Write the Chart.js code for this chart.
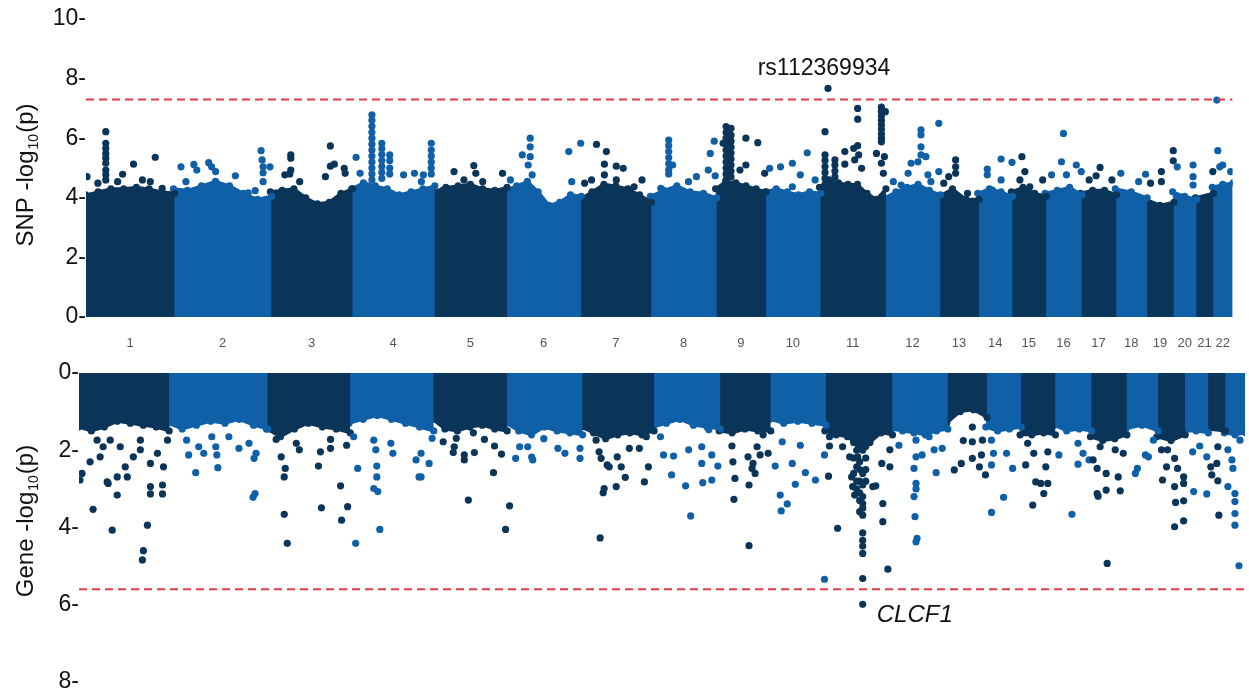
<!DOCTYPE html>
<html>
<head>
<meta charset="utf-8">
<script src="https://cdn.jsdelivr.net/npm/chart.js@4.4.1/dist/chart.umd.min.js"></script>
<style>
  html, body { margin: 0; padding: 0; background: #fff; overflow: hidden; }
  #snpBox { position: absolute; left: 0; top: 0; }
  #geneBox { position: absolute; left: 0; top: 350px; }
</style>
</head>
<body>
<div id="snpBox"><canvas id="snpChart" width="1249" height="350"></canvas></div>
<div id="geneBox"><canvas id="geneChart" width="1249" height="350"></canvas></div>
<script>
// chromosomes and their widths on the genome axis
const chromosomes = ['1','2','3','4','5','6','7','8','9','10','11','12','13','14','15','16','17','18','19','20','21','22'];
const chromLength = [89, 98, 82, 83, 73, 75, 71, 66, 50, 55, 66, 55, 39, 34, 34, 36, 35, 31, 27, 23, 17, 20];

const snpTicks = [0, 2, 4, 6, 8, 10];
const geneTicks = [0, 2, 4, 6, 8];
const snpThreshold = 7.3;
const geneThreshold = 5.6;

// top of the dense band of points, per chromosome (evenly spaced along it)
const snpEdge = [
  [4.1, 4.2, 4.3, 4.3, 4.35, 4.3, 4.2, 4.15],
  [4.3, 4.25, 4.4, 4.55, 4.4, 4.15, 3.95, 4.05],
  [4.2, 4.25, 4.3, 4.0, 3.8, 3.85, 4.15, 4.3],
  [4.3, 4.5, 4.4, 4.3, 4.1, 4.2, 4.3, 4.4],
  [4.2, 4.35, 4.4, 4.45, 4.3, 4.25, 4.35],
  [4.25, 4.4, 4.55, 4.2, 3.75, 3.85, 4.1, 4.05],
  [3.95, 4.2, 4.45, 4.4, 4.3, 4.1, 3.85],
  [4.05, 4.25, 4.4, 4.2, 4.15, 4.0],
  [4.3, 4.55, 4.5, 4.4, 4.3, 4.2],
  [4.2, 4.3, 4.2, 4.1, 4.2, 4.15],
  [4.35, 4.6, 4.5, 4.45, 4.45, 4.15, 3.95, 4.3],
  [4.0, 4.2, 4.35, 4.45, 4.25, 4.1],
  [4.05, 4.3, 3.95, 3.95],
  [4.15, 4.3, 4.2, 4.05],
  [4.2, 4.35, 4.15, 4.05],
  [4.15, 4.25, 4.35, 4.1],
  [4.15, 4.25, 4.25, 4.1],
  [4.3, 4.2, 4.0],
  [3.95, 3.75, 3.85],
  [4.2, 4.05, 3.95],
  [4.0, 4.15],
  [4.35, 4.45, 4.5]
];

// SNPs standing out above the band: [chromosome, offset in chromosome, -log10(p)]
const snpPeaks = [
  [1,1,4.71],[1,20,6.22],[1,20,5.83],[1,20,5.66],[1,20,5.49],[1,20,5.33],[1,20,5.16],[1,20,4.93],[1,20,4.77],[1,20,4.6],
  [1,12,4.49],[1,37,4.79],[1,48,5.13],[1,70,5.36],[1,32,4.54],[1,57,4.6],[1,65,4.54],[1,77,4.32],
  [2,7,5.04],[2,12,4.54],[2,20,5.12],[2,23,4.93],[2,35,5.18],[2,38,5.04],[2,42,4.88],[2,62,4.74],
  [2,88,5.58],[2,89,5.27],[2,90,5.04],[2,90,4.84],[2,90,4.54],[2,97,5.04],[2,75,4.17],[2,82,4.24],
  [3,20,5.44],[3,20,5.33],[3,20,4.93],[3,19,4.8],[3,29,4.54],[3,60,5.74],[3,60,5.06],[3,64,5.13],
  [3,55,4.71],[3,74,4.99],[3,75,4.82],[3,14,4.77],
  [4,4,5.36],[4,8,4.82],[4,20,6.78],[4,20,6.6],[4,20,6.4],[4,20,6.2],[4,20,6.0],[4,20,5.8],[4,20,5.6],
  [4,20,5.4],[4,20,5.2],[4,20,5.0],[4,20,4.8],[4,20,4.6],
  [4,30,5.83],[4,30,5.65],[4,30,5.45],[4,30,5.25],[4,30,5.05],[4,30,4.85],[4,30,4.65],
  [4,38,5.44],[4,38,5.25],[4,38,5.0],[4,38,4.8],[4,52,4.77],[4,63,4.82],[4,72,4.77],[4,70,4.54],
  [4,80,5.83],[4,80,5.6],[4,80,5.4],[4,80,5.2],[4,80,5.0],[4,80,4.8],
  [5,20,4.88],[5,40,5.08],[5,42,4.82],[5,69,4.82],[5,49,4.54],[5,9,4.26],[5,30,4.6],
  [6,24,6.0],[6,24,5.71],[6,16,5.44],[6,24,5.38],[6,22,5.1],[6,26,4.77],[6,63,5.55],[6,75,5.83],[6,66,4.54],[6,4,4.6],
  [7,16,5.79],[7,26,5.55],[7,24,5.13],[7,36,5.06],[7,43,4.99],[7,36,4.6],[7,24,4.77],[7,11,4.6],[7,4,4.49],[7,62,4.6],[7,54,4.37],
  [8,18,5.94],[8,18,5.75],[8,18,5.55],[8,18,5.35],[8,18,5.15],[8,18,4.95],[8,18,4.8],[8,22,5.1],[8,38,4.54],[8,46,4.71],
  [8,10,4.32],[8,60,5.49],[8,64,5.9],[8,58,4.93],[8,65,4.74],
  [9,10,6.39],[9,10,6.2],[9,10,6.0],[9,10,5.8],[9,10,5.6],[9,10,5.4],[9,10,5.2],[9,10,5.0],[9,10,4.8],[9,10,4.6],
  [9,15,6.33],[9,15,6.1],[9,15,5.9],[9,15,5.7],[9,15,5.5],[9,15,5.3],[9,15,5.1],[9,15,4.9],[9,15,4.7],
  [9,7,5.83],[9,30,6.0],[9,42,5.85],[9,30,5.1],[9,24,4.93],[9,49,4.82],
  [10,4,4.99],[10,15,5.04],[10,27,5.16],[10,42,5.51],[10,35,4.77],[10,27,4.37],[10,50,4.6],
  [11,5,6.22],[11,5,5.44],[11,5,5.25],[11,5,5.05],[11,5,4.85],[11,5,4.65],[11,5,4.45],
  [11,15,5.27],[11,15,5.1],[11,15,4.9],[11,15,4.7],[11,25,5.55],[11,25,5.13],[11,34,5.66],
  [11,38,7.0],[11,38,6.64],[11,38,5.75],[11,35,5.27],[11,42,4.99],[11,39,5.44],
  [11,62,7.04],[11,62,6.9],[11,62,6.75],[11,62,6.6],[11,62,6.45],[11,62,6.3],[11,62,6.15],[11,62,6.0],[11,62,5.88],
  [11,66,6.89],[11,57,5.49],[11,65,5.38],[11,62,5.16],[11,64,4.82],
  [12,36,6.28],[12,36,6.11],[12,36,5.71],[12,36,5.44],[12,41,5.38],[12,33,5.21],[12,26,5.16],[12,23,4.82],
  [12,54,6.5],[12,54,4.88],[12,43,4.77],[12,46,4.54],[12,8,4.54],[12,16,4.43],
  [13,16,5.27],[13,16,5.04],[13,16,4.82],[13,9,4.71],[13,4,4.49],[13,28,4.15],
  [14,23,5.3],[14,23,4.6],[14,9,4.96],[14,9,4.77],[14,14,4.26],[14,34,5.19],
  [15,10,5.38],[15,13,4.88],[15,8,4.6],[15,18,4.37],[15,31,4.6],
  [16,18,6.16],[16,16,5.21],[16,21,4.77],[16,31,5.1],[16,36,4.88],[16,6,4.77],
  [17,19,5.02],[17,15,4.74],[17,8,4.6],[17,31,4.6],
  [18,5,4.82],[18,23,4.54],[18,30,4.79],
  [19,27,5.58],[19,27,5.24],[19,15,4.88],[19,15,4.54],[19,4,4.49],
  [20,4,5.04],[20,20,5.1],[20,20,4.71],[20,20,4.43],
  [21,17,4.88],
  [22,4,7.28],[22,5,5.58],[22,10,5.1],[22,7,5.04],[22,18,4.88]
];
const snpLead = ['rs112369934', 11, 8, 7.67];

// bottom of the dense band in the gene panel
const geneEdge = [
  [1.4, 1.5, 1.4, 1.25, 1.3, 1.35, 1.4, 1.5],
  [1.3, 1.45, 1.35, 1.25, 1.3, 1.2, 1.35, 1.45],
  [1.45, 1.65, 1.45, 1.3, 1.4, 1.45, 1.55],
  [1.3, 1.2, 1.1, 1.2, 1.3, 1.4, 1.5],
  [1.2, 1.45, 1.5, 1.4, 1.35, 1.45, 1.5],
  [1.3, 1.5, 1.6, 1.4, 1.5, 1.55, 1.6],
  [1.4, 1.55, 1.7, 1.6, 1.55, 1.6, 1.5],
  [1.4, 1.3, 1.2, 1.35, 1.4, 1.45],
  [1.5, 1.55, 1.45, 1.5, 1.5],
  [1.2, 1.3, 1.25, 1.3, 1.35],
  [1.5, 1.6, 1.65, 1.9, 1.8, 1.55, 1.6],
  [1.45, 1.5, 1.55, 1.6, 1.5, 1.45],
  [1.3, 1.0, 0.95, 1.15],
  [1.4, 1.5, 1.45, 1.4],
  [1.6, 1.6, 1.55, 1.6],
  [1.35, 1.5, 1.45, 1.5],
  [1.65, 1.75, 1.7, 1.6],
  [1.45, 1.35, 1.5],
  [1.65, 1.75, 1.6],
  [1.5, 1.5, 1.55],
  [1.45, 1.5],
  [1.55, 1.6, 1.55]
];

// genes below the band: [chromosome, offset in chromosome, -log10(p)]
const genePeaks = [
  [1,3,2.6],[1,1,2.77],[1,14,3.53],[1,11,2.3],[1,21,2.17],[1,28,2.82],[1,33,4.07],[1,38,2.69],[1,38,3.16],
  [1,48,2.69],[1,46,2.43],[1,54,2.17],[1,68,3.94],[1,64,4.6],[1,63,4.84],[1,71,2.94],[1,71,3.13],[1,83,2.9],
  [1,83,3.13],[1,84,2.43],[1,71,2.34],[1,61,1.74],[1,24,1.91],[1,18,1.74],[1,31,1.74],[1,41,1.91],[1,61,1.99],
  [1,78,2.08],[1,88,1.74],[1,29,2.86],
  [2,18,1.74],[2,20,2.12],[2,30,1.91],[2,27,2.58],[2,35,2.08],[2,47,1.91],[2,48,2.12],[2,49,2.45],[2,43,1.65],
  [2,60,1.65],[2,70,1.95],[2,80,1.82],[2,85,2.21],[2,87,2.08],[2,86,3.12],[2,84,3.22],
  [3,9,1.72],[3,14,2.17],[3,18,2.47],[3,17,2.69],[3,17,3.66],[3,20,4.41],[3,29,1.82],[3,32,1.99],[3,51,2.41],
  [3,53,2.04],[3,54,3.49],[3,63,1.72],[3,63,1.95],[3,73,2.92],[3,74,3.81],[3,80,3.46],[3,79,1.87],
  [4,4,1.65],[4,8,2.47],[4,6,4.41],[4,24,1.74],[4,26,1.99],[4,27,2.41],[4,27,2.69],[4,24,2.99],[4,28,3.07],
  [4,30,4.05],[4,41,1.82],[4,43,2.08],[4,66,2.25],[4,69,2.69],[4,71,2.08],[4,71,2.69],[4,79,2.34],[4,82,1.69],
  [5,10,1.78],[5,20,2.06],[5,31,2.12],[5,31,2.25],[5,41,2.06],[5,51,1.72],[5,35,3.29],[5,60,2.58],[5,72,4.05],
  [5,76,3.44],[5,68,2.1],[5,61,1.89],[5,23,1.69],[5,40,1.55],[5,21,1.91],
  [6,9,2.21],[6,13,1.91],[6,25,2.18],[6,26,2.25],[6,37,1.7],[6,58,2.08],[6,73,1.95],[6,73,2.21],[6,51,1.95],[6,21,1.91],
  [7,17,2.04],[7,19,2.21],[7,25,2.38],[7,27,2.43],[7,35,2.17],[7,39,2.43],[7,43,2.7],[7,22,2.99],[7,21,3.1],
  [7,34,2.94],[7,62,2.82],[7,66,2.43],[7,18,4.27],[7,47,1.95],[7,57,1.95],[7,64,1.65],[7,14,1.74],
  [8,7,1.65],[8,10,2.12],[8,20,2.15],[8,18,2.64],[8,32,2.92],[8,35,1.99],[8,37,3.7],[8,48,1.91],[8,48,2.34],
  [8,49,2.84],[8,58,2.12],[8,58,2.77],[8,55,1.47],[8,64,2.41],
  [9,12,1.89],[9,13,2.3],[9,15,2.73],[9,14,3.27],[9,29,4.47],[9,28,2.17],[9,32,2.47],[9,29,2.9],[9,37,1.91],
  [9,35,2.6],[9,40,2.12],[9,48,2.08],[9,43,1.6],[9,33,2.34],
  [10,5,2.41],[10,10,3.16],[10,17,3.39],[10,11,3.57],[10,12,1.78],[10,22,2.34],[10,25,2.88],[10,35,2.58],
  [10,45,2.77],[10,30,1.87],[10,54,2.12],[10,54,5.34],
  [11,4,1.65],[11,4,1.89],[11,17,1.91],[11,12,4.02],[11,3,2.67],[11,26,2.69],[11,27,2.94],[11,29,3.16],
  [11,37,3.38],[11,34,3.59],[11,37,3.68],[11,37,4.14],[11,37,4.33],[11,37,4.48],[11,37,4.67],[11,37,5.32],
  [11,47,2.94],[11,56,2.34],[11,57,3.38],[11,57,3.85],[11,62,5.08],[11,64,2.43],[11,64,1.99],[11,50,2.92],
  [11,31,2.43],[11,32,2.17],[11,34,1.91],[11,24,2.17],
  [11,28,1.8],[11,28,2.2],[11,28,2.6],[11,31,2.0],[11,31,2.8],[11,31,3.0],
  [11,34,1.75],[11,34,2.3],[11,34,2.5],[11,34,2.8],[11,34,3.1],[11,34,3.3],
  [11,37,2.0],[11,37,2.6],[11,37,2.9],[11,37,3.2],[11,37,3.5],[11,40,1.9],[11,40,2.2],[11,40,2.5],[11,40,2.8],
  [12,7,1.87],[12,24,1.74],[12,24,2.17],[12,30,2.12],[12,22,2.47],[12,24,2.86],[12,24,3.0],[12,22,3.2],
  [12,23,3.72],[12,25,4.28],[12,24,4.37],[12,44,2.58],[12,42,1.99],[12,50,1.95],[12,37,1.65],
  [13,7,2.51],[13,14,2.34],[13,16,1.75],[13,25,1.78],[13,25,2.21],[13,34,2.12],[13,35,1.74],[13,32,2.43],
  [13,38,2.64],[13,25,1.4],
  [14,5,1.74],[14,5,2.38],[14,7,2.08],[14,20,2.08],[14,26,2.47],[14,17,3.22],[14,5,3.61],
  [15,5,2.38],[15,12,3.42],[15,15,2.82],[15,20,2.86],[15,23,3.12],[15,27,2.86],[15,25,2.43],[15,27,2.04],
  [15,7,1.82],[15,13,2.08],
  [16,4,2.12],[16,17,3.66],[16,23,1.82],[16,23,2.36],[16,28,2.08],[16,34,2.25],
  [17,2,2.25],[17,6,2.47],[17,6,3.12],[17,7,3.19],[17,15,3.03],[17,15,2.6],[17,16,4.93],[17,29,3.05],
  [17,27,2.69],[17,32,2.08],[17,24,1.99],[17,9,1.91],
  [18,9,2.6],[18,11,2.47],[18,19,2.12],[18,22,2.17],[18,27,1.74],
  [19,4,1.99],[19,9,2.43],[19,5,2.77],[19,17,2.94],[19,18,3.35],[19,17,3.98],[19,20,2.47],[19,26,2.69],
  [19,26,2.86],[19,26,3.31],[19,26,3.83],[19,10,1.99],[19,17,2.21],
  [20,8,2.04],[20,9,3.07],[20,15,1.89],[20,22,2.17],[20,22,3.13],
  [21,3,2.43],[21,4,2.64],[21,9,2.34],[21,10,1.91],[21,11,3.68],[21,10,2.79],
  [22,3,2.94],[22,7,2.25],[22,8,2.47],[22,10,3.12],[22,10,3.33],[22,10,3.64],[22,10,3.94],[22,14,4.99],
  [22,3,1.99],[22,15,1.74]
];
const geneLead = ['CLCF1', 11, 37, 5.99];

const DARK = '#0b3459';
const LIGHT = '#1060a8';
const RED = '#e23a48';
const FONT = "'Liberation Sans', Arial, sans-serif";

const chromStart = [];
let total = 0;
chromLength.forEach(function (len) {
  chromStart.push(total);
  total += len;
});
const genomeLength = total;

function chromColor(chr) {
  return chr % 2 === 1 ? DARK : LIGHT;
}

// filled band per chromosome; a small overlap hides the seams between neighbours
function bandDatasets(edges) {
  return edges.map(function (vals, i) {
    var col = chromColor(i + 1);
    var from = chromStart[i] - 0.6, span = chromLength[i] + 1.2;
    var pts = vals.map(function (v, k) {
      return { x: from + k * span / (vals.length - 1), y: v };
    });
    return {
      type: 'line', data: pts, showLine: true, fill: 'origin', tension: 0,
      backgroundColor: col, borderColor: col, borderWidth: 3,
      pointRadius: 3.6, pointBackgroundColor: col, pointBorderWidth: 0,
      order: 3
    };
  });
}

function peakDataset(peaks, lead) {
  var all = peaks.concat([[lead[1], lead[2], lead[3]]]);
  return {
    type: 'scatter',
    data: all.map(function (p) { return { x: chromStart[p[0] - 1] + p[1], y: p[2] }; }),
    backgroundColor: all.map(function (p) { return chromColor(p[0]); }),
    pointRadius: 3.6, borderWidth: 0, order: 2
  };
}

function thresholdDataset(t) {
  return {
    type: 'line', data: [{ x: 0, y: t }, { x: genomeLength, y: t }],
    borderColor: RED, borderWidth: 2, borderDash: [8, 5],
    pointRadius: 0, fill: false, order: 1
  };
}

// y title with a subscript "10"
function titlePlugin(word, centerY) {
  return {
    id: 'ytitle',
    afterDraw: function (chart) {
      var ctx = chart.ctx;
      var a = word + ' -log', b = '10', c = '(p)';
      ctx.save();
      ctx.fillStyle = '#111';
      ctx.textBaseline = 'alphabetic';
      ctx.font = '24px ' + FONT;
      var wa = ctx.measureText(a).width, wc = ctx.measureText(c).width;
      ctx.font = '14px ' + FONT;
      var wb = ctx.measureText(b).width;
      ctx.translate(33, centerY);
      ctx.rotate(-Math.PI / 2);
      var x = -(wa + wb + wc) / 2;
      ctx.font = '24px ' + FONT;
      ctx.fillText(a, x, 0);
      ctx.font = '14px ' + FONT;
      ctx.fillText(b, x + wa + 1, 5);
      ctx.font = '24px ' + FONT;
      ctx.fillText(c, x + wa + wb + 2, 0);
      ctx.restore();
    }
  };
}

function leadLabelPlugin(lead, font, dx, dy, align) {
  return {
    id: 'leadlabel',
    afterDraw: function (chart) {
      var px = chart.scales.x.getPixelForValue(chromStart[lead[1] - 1] + lead[2]);
      var py = chart.scales.y.getPixelForValue(lead[3]);
      var ctx = chart.ctx;
      ctx.save();
      ctx.font = font;
      ctx.fillStyle = '#111';
      ctx.textAlign = align;
      ctx.textBaseline = 'middle';
      ctx.fillText(lead[0], px + dx, py + dy);
      ctx.restore();
    }
  };
}

function yAxis(ticks, max, width, reverse) {
  return {
    min: 0, max: max, reverse: reverse,
    afterBuildTicks: function (s) { s.ticks = ticks.map(function (v) { return { value: v }; }); },
    afterFit: function (s) { s.width = width; },
    grid: { display: false, drawTicks: false },
    border: { display: false },
    ticks: {
      padding: 0, color: '#111', font: { size: 23, family: FONT },
      callback: function (v) { return v + '-'; }
    }
  };
}

var snpDatasets = [thresholdDataset(snpThreshold), peakDataset(snpPeaks, snpLead)].concat(bandDatasets(snpEdge));
var geneDatasets = [thresholdDataset(geneThreshold), peakDataset(genePeaks, geneLead)].concat(bandDatasets(geneEdge));

new Chart(document.getElementById('snpChart'), {
  type: 'scatter',
  data: { datasets: snpDatasets },
  options: {
    responsive: false, animation: false, devicePixelRatio: 1,
    layout: { padding: { top: 19, right: 4, left: 0, bottom: 0 } },
    plugins: { legend: { display: false }, tooltip: { enabled: false } },
    scales: {
      x: {
        type: 'linear', min: 0, max: genomeLength,
        afterBuildTicks: function (s) {
          s.ticks = chromStart.map(function (st, i) { return { value: st + chromLength[i] / 2 }; });
        },
        afterFit: function (s) { s.height = 33; },
        grid: { display: false, drawTicks: false },
        border: { display: false },
        ticks: {
          autoSkip: false, maxRotation: 0, padding: 19, color: '#555',
          font: { size: 13, family: FONT },
          callback: function (v, i) { return chromosomes[i]; }
        }
      },
      y: yAxis(snpTicks, 10, 86, false)
    }
  },
  plugins: [titlePlugin('SNP', 176), leadLabelPlugin(snpLead, '23px ' + FONT, -4, -20, 'center')]
});

new Chart(document.getElementById('geneChart'), {
  type: 'scatter',
  data: { datasets: geneDatasets },
  options: {
    responsive: false, animation: false, devicePixelRatio: 1,
    layout: { padding: { top: 23, right: 4, left: 0, bottom: 18 } },
    plugins: { legend: { display: false }, tooltip: { enabled: false } },
    scales: {
      x: { type: 'linear', min: 0, max: genomeLength, display: false },
      y: yAxis(geneTicks, 8, 79, true)
    }
  },
  plugins: [titlePlugin('Gene', 172), leadLabelPlugin(geneLead, 'italic 24px ' + FONT, 14, 11, 'left')]
});
</script>
</body>
</html>
